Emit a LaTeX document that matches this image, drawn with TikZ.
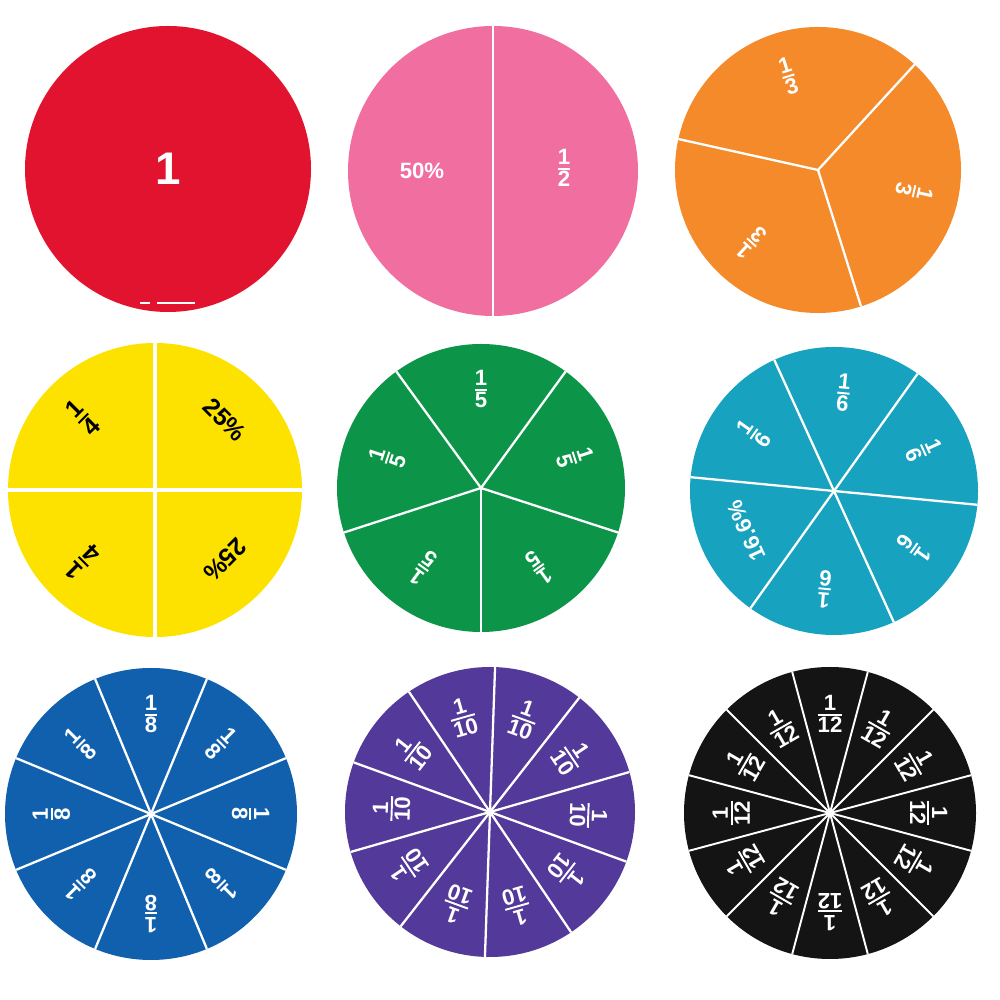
\documentclass[tikz,border=0pt]{standalone}
\usepackage{fontspec}
\setmainfont{Liberation Sans}
\definecolor{discred}{HTML}{E2132F}
\definecolor{discpink}{HTML}{F06FA0}
\definecolor{discorange}{HTML}{F58A2B}
\definecolor{discyellow}{HTML}{FDE200}
\definecolor{discgreen}{HTML}{0C9548}
\definecolor{discteal}{HTML}{17A2BF}
\definecolor{discblue}{HTML}{1060AE}
\definecolor{discpurple}{HTML}{52399A}
\definecolor{discblack}{HTML}{141414}
\setlength{\arrayrulewidth}{0.55pt}
\newcommand{\frc}[2]{\begin{tabular}{@{}c@{}}#1\\[-1.3pt]\hline #2\end{tabular}}
\tikzset{spoke/.style={white, line width=0.65pt}}
\begin{document}
\begin{tikzpicture}[x=0.01cm, y=0.01cm, every node/.style={inner sep=0pt, text=white, font=\bfseries\fontsize{6.3}{7}\selectfont}]
  \fill[white] (0,0) rectangle (1000,1000);
  \useasboundingbox (0,0) rectangle (1000,1000);
  % top row: whole, halves, thirds
  \coordinate (red) at (168,831);
  \fill[discred] (red) circle (143);
  \node[font=\bfseries\fontsize{13}{14}\selectfont] (whole) at (red) {1};
  \draw[white, line width=0.3pt] (140,697) -- (150,697) (157,697) -- (195,697);
  \coordinate (pink) at (493,829);
  \fill[discpink] (pink) circle (145);
  \draw[spoke] (pink) -- ++(90:145) (pink) -- ++(270:145);
  \path (pink) ++(180:71) node (pct50) {50\%};
  \path (pink) ++(0:71) node (half) {\frc{1}{2}};
  \coordinate (orange) at (818,830);
  \fill[discorange] (orange) circle (143);
  \foreach \a in {47.5,167.5,287.5} \draw[spoke] (orange) -- ++(\a:143);
  \foreach \a [count=\i] in {107.5,227.5,347.5}
    \path (orange) ++(\a:96) node[rotate=\a-90] (third\i) {\frc{1}{3}};
  % middle row: quarters, fifths, sixths
  \coordinate (yellow) at (155,510);
  \fill[discyellow] (yellow) circle (147);
  \foreach \a in {0,90,180,270} \draw[spoke, line width=0.9pt] (yellow) -- ++(\a:147);
  \foreach \a/\t [count=\i] in {45/25\%, 135/\frc{1}{4}, 225/\frc{1}{4}, 315/25\%}
    \path (yellow) ++(\a:99) node[rotate=\a-90, text=black, font=\bfseries\fontsize{7}{7.8}\selectfont] (quarter\i) {\t};
  \coordinate (green) at (481,512);
  \fill[discgreen] (green) circle (144);
  \foreach \a in {54,126,...,342} \draw[spoke] (green) -- ++(\a:144);
  \foreach \a [count=\i] in {90,162,...,378}
    \path (green) ++(\a:96) node[rotate=\a-90] (fifth\i) {\frc{1}{5}};
  \coordinate (teal) at (834,509);
  \fill[discteal] (teal) circle (144);
  \foreach \a in {54.5,114.5,...,354.5} \draw[spoke] (teal) -- ++(\a:144);
  \foreach \a/\t [count=\i] in {24.5/\frc{1}{6}, 84.5/\frc{1}{6}, 144.5/\frc{1}{6}, 204.5/16.6\%, 264.5/\frc{1}{6}, 324.5/\frc{1}{6}}
    \path (teal) ++(\a:96) node[rotate=\a-90] (sixth\i) {\t};
  % bottom row: eighths, tenths, twelfths
  \coordinate (blue) at (151,186);
  \fill[discblue] (blue) circle (146);
  \foreach \a in {22.5,67.5,...,337.5} \draw[spoke] (blue) -- ++(\a:146);
  \foreach \a [count=\i] in {0,45,...,315}
    \path (blue) ++(\a:97) node[rotate=\a-90] (eighth\i) {\frc{1}{8}};
  \coordinate (purple) at (490,188);
  \fill[discpurple] (purple) circle (145);
  \foreach \a in {16,52,...,340} \draw[spoke] (purple) -- ++(\a:145);
  \foreach \a [count=\i] in {34,70,...,358}
    \path (purple) ++(\a:96) node[rotate=\a-90] (tenth\i) {\frc{1}{10}};
  \coordinate (black) at (830,187);
  \fill[discblack] (black) circle (146);
  \foreach \a in {15,45,...,345} \draw[spoke, line width=0.55pt] (black) -- ++(\a:146);
  \foreach \a [count=\i] in {0,30,...,330}
    \path (black) ++(\a:96) node[rotate=\a-90] (twelfth\i) {\frc{1}{12}};
\end{tikzpicture}
\end{document}
